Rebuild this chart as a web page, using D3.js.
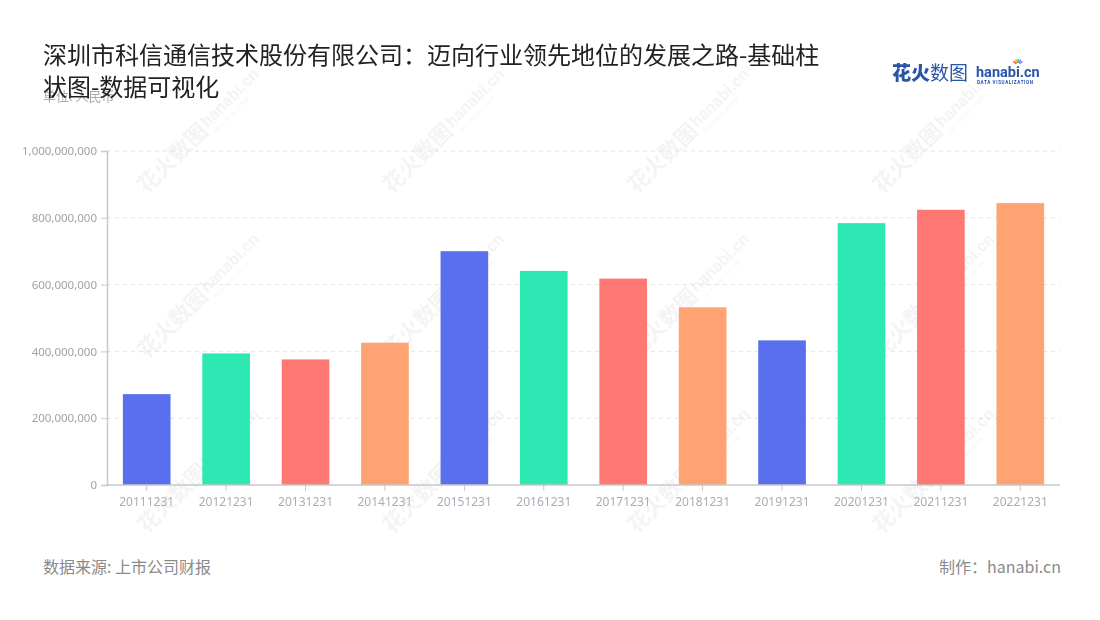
<!DOCTYPE html>
<html><head><meta charset="utf-8">
<script src="https://cdn.jsdelivr.net/npm/d3@7"></script>
<style>
body{margin:0;background:#fff;}
svg{display:block;font-family:"Noto Sans CJK SC","Noto Sans",sans-serif;}
</style></head>
<body><svg id="chart" width="1100" height="620"></svg>
<script>
const categories = ["20111231","20121231","20131231","20141231","20151231","20161231","20171231","20181231","20191231","20201231","20211231","20221231"];
const values = [272000000,394000000,376000000,426000000,700000000,641000000,618000000,532000000,433000000,784000000,824000000,844000000];
const yTicks = [0,200000000,400000000,600000000,800000000,1000000000];
const palette = ["#5a6fee","#2de8b3","#ff7873","#ffa372"];
const titleLines = ["深圳市科信通信技术股份有限公司：迈向行业领先地位的发展之路-基础柱","状图-数据可视化"];

const svg = d3.select("#chart");
const m = {left:107, right:1060, top:151, bottom:485};

// watermarks
const wmX = [180,425,670,915], wmY = [150,315,490];
const wm = svg.append("g").attr("opacity",0.35);
wmY.forEach(y=>wmX.forEach(x=>{
  const g = wm.append("g").attr("transform",`translate(${x},${y}) rotate(-45)`);
  g.append("text").attr("x",-55).attr("y",8).attr("font-size",22).attr("font-weight",700).attr("fill","#e0e0e0").text("花火数图");
  g.append("text").attr("x",35).attr("y",4).attr("font-size",17).attr("font-weight",700).attr("fill","#e0e0e0").attr("font-family","Roboto, sans-serif").text("hanabi.cn");
  g.append("text").attr("x",37).attr("y",13).attr("font-size",5).attr("fill","#e0e0e0").attr("font-family","Roboto, sans-serif").text("DATA VISUALIZATION");
}));

const x = d3.scaleBand().domain(categories).range([m.left,m.right]).paddingInner(0.4).paddingOuter(0.2);
const y = d3.scaleLinear().domain([0,1000000000]).range([m.bottom,m.top]);

// grid
svg.append("g").selectAll("line").data(yTicks.filter(d=>d>0)).join("line")
  .attr("x1",m.left).attr("x2",m.right).attr("y1",d=>y(d)).attr("y2",d=>y(d))
  .attr("stroke","#e3e3e3").attr("stroke-dasharray","4,4");

// bars
svg.append("g").selectAll("rect").data(values).join("rect")
  .attr("x",(d,i)=>x(categories[i])).attr("width",x.bandwidth())
  .attr("y",d=>y(d)).attr("height",d=>m.bottom-y(d))
  .attr("fill",(d,i)=>palette[i%4]);

// y axis
const fmt = d3.format(",");
const ya = svg.append("g").attr("transform",`translate(${m.left},0)`)
  .call(d3.axisLeft(y).tickValues(yTicks).tickFormat(fmt).tickSize(6).tickPadding(4));
ya.select(".domain").attr("stroke","#c8c8c8").attr("stroke-width",1.5);
ya.selectAll(".tick line").attr("stroke","#c8c8c8");
ya.selectAll("text").attr("fill","#a3a3a3").attr("font-size",11.5).attr("font-family","Noto Sans, sans-serif");

// x axis
const xa = svg.append("g").attr("transform",`translate(0,${m.bottom})`)
  .call(d3.axisBottom(x).tickSize(6).tickSizeOuter(0).tickPadding(6));
xa.select(".domain").attr("stroke","#c8c8c8").attr("stroke-width",1.5).attr("d",`M${m.left},0H${m.right}`);
xa.selectAll(".tick line").attr("stroke","#c8c8c8");
xa.selectAll("text").attr("fill","#a9adb8").attr("font-size",12).attr("font-family","Noto Sans, sans-serif");

// title
svg.append("text").attr("x",43).attr("y",101).attr("font-size",13).attr("fill","#aaaaaa").text("单位: 人民币");
titleLines.forEach((t,i)=>svg.append("text").attr("x",43).attr("y",64+i*32).attr("font-size",24).attr("fill","#222").text(t));

// logo
const lg = svg.append("g").attr("transform","translate(892,80)");
lg.append("text").attr("x",0).attr("y",0).attr("font-size",19).attr("font-weight",900).attr("fill","#2a54a8").text("花火");
lg.append("text").attr("x",38).attr("y",0).attr("font-size",19).attr("fill","#2a54a8").text("数图");
lg.append("text").attr("x",84).attr("y",-3).attr("font-size",14.5).attr("font-weight",700).attr("fill","#2a54a8").attr("font-family","Roboto, sans-serif").text("hanabi.cn");
lg.append("text").attr("x",85).attr("y",4).attr("font-size",4.6).attr("font-weight",700).attr("letter-spacing",0.6).attr("fill","#2a54a8").attr("font-family","Roboto, sans-serif").text("DATA VISUALIZATION");
["#f44","#fa0","#3c6","#39f","#c6f"].forEach((c,i)=>{
  const a = -Math.PI/2 + (i-2)*0.45;
  lg.append("line").attr("x1",126+Math.cos(a)*2).attr("y1",-15+Math.sin(a)*2).attr("x2",126+Math.cos(a)*6).attr("y2",-15+Math.sin(a)*6).attr("stroke",c).attr("stroke-width",1.5);
});

// footer
svg.append("text").attr("x",43).attr("y",573).attr("font-size",16).attr("fill","#8a8a8a").text("数据来源: 上市公司财报");
svg.append("text").attr("x",1061).attr("y",573).attr("text-anchor","end").attr("font-size",16).attr("fill","#8a8a8a").text("制作：hanabi.cn");
</script></body></html>
